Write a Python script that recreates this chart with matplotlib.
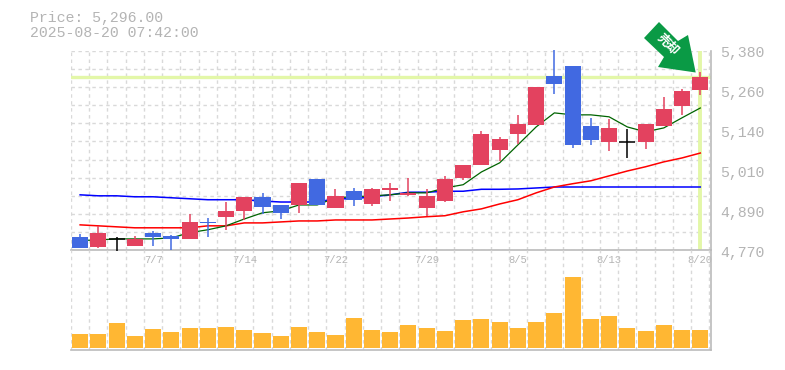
import matplotlib
matplotlib.use("Agg")
import matplotlib.pyplot as plt
from matplotlib.patches import Polygon, Rectangle

W, H = 785, 370
opens = [4806,4776,4800,4779,4819,4809,4800,4852,4868,4886,4929,4904,4904,4984,4895,4947,4907,4950,4935,4895,4916,4987,5027,5073,5121,5149,5299,5330,5146,5097,5097,5097,5146,5207,5256]
highs = [4816,4840,4806,4809,4825,4813,4877,4864,4913,4929,4941,4904,4972,4984,4953,4956,4956,4972,4987,4953,4993,5027,5131,5112,5180,5265,5379,5330,5171,5167,5137,5152,5235,5259,5311]
lows  = [4773,4773,4764,4779,4779,4767,4800,4806,4828,4858,4877,4861,4880,4904,4895,4901,4901,4916,4932,4871,4913,4981,5027,5039,5091,5149,5244,5079,5088,5070,5048,5076,5146,5180,5241]
closes= [4773,4819,4801,4800,4806,4800,4852,4849,4886,4929,4898,4880,4972,4904,4932,4920,4953,4956,4941,4932,4984,5027,5121,5106,5152,5265,5275,5088,5103,5140,5098,5152,5198,5253,5296]
ma5  = [4795,4797,4800,4800,4800,4803,4819,4828,4840,4861,4880,4886,4904,4904,4926,4929,4932,4935,4941,4941,4956,4966,5005,5033,5088,5143,5186,5180,5180,5174,5143,5128,5140,5171,5201]
ma25 = [4843,4840,4837,4834,4834,4834,4834,4840,4840,4849,4849,4852,4855,4855,4858,4858,4858,4861,4864,4868,4871,4883,4892,4907,4920,4941,4959,4969,4978,4993,5008,5021,5036,5048,5063]
ma75 = [4935,4932,4932,4929,4929,4926,4923,4920,4920,4920,4916,4913,4913,4913,4923,4923,4929,4935,4943,4943,4946,4946,4952,4952,4953,4956,4959,4959,4959,4959,4959,4959,4959,4959,4959]
volumes = [14,14,25,12,19,16,20,20,21,18,15,12,21,16,13,30,18,16,23,20,17,28,29,26,20,26,35,71,29,32,20,17,23,18,18]
date_labels = ["7/7","7/14","7/22","7/29","8/5","8/13","8/20"]
price_labels = ["5,380","5,260","5,140","5,010","4,890","4,770"]
title_lines = ["Price: 5,296.00","2025-08-20 07:42:00"]
last_price = 5296

RED, BLUE, BLACK = "#e3425f", "#4169e1", "#000000"
GRID = "#d9d9d9"; AXIS = "#bbbbbb"; HILITE = "#e3f7a8"; TXT = "#b4b4b4"
MONO = "Liberation Mono"

fig = plt.figure(figsize=(W/100, H/100), dpi=100, facecolor="white")
def box(x0, y0, x1, y1):
    return [x0/W, 1-y1/H, (x1-x0)/W, (y1-y0)/H]
ax = fig.add_axes(box(71, 51, 710.5, 250))
vx = fig.add_axes(box(71, 250, 710.5, 350), sharex=ax)
vx.patch.set_alpha(0)

n = len(closes)
ax.set_xlim(-0.5, 34.56)
ax.set_ylim(4766, 5375.6)
ax.set_xticks(range(4, n, 5))
ax.set_xticklabels(date_labels, family=MONO, fontsize=7.6, color=TXT)
ax.set_xticks([i-0.5 for i in range(n+1)], minor=True)
ax.set_yticks([4766+i*(5375.6-4766)/11 for i in range(12)])
ax.tick_params(axis="y", which="both", length=0, labelleft=False)
ax.tick_params(axis="x", which="both", length=0, pad=3.5)
for a in (ax, vx):
    a.grid(True, which="minor", axis="x", color=GRID, ls=(0, (2.5, 2.5)), lw=1.0)
    a.set_axisbelow(True)
    for s in ("left", "top"):
        a.spines[s].set_visible(False)
    for s in ("bottom", "right"):
        a.spines[s].set_color(AXIS)
        a.spines[s].set_linewidth(1.2)
ax.grid(True, which="major", axis="y", color=GRID, ls=(0, (2.5, 2.5)), lw=1.0)
vx.tick_params(axis="both", which="both", length=0, labelbottom=False, labelleft=False)
vx.set_yticks([])
vx.set_ylim(-2, 98)

ax.axhline(last_price, color=HILITE, lw=2.4, zorder=1.5)
ax.axvline(n-1, color=HILITE, lw=2.8, zorder=1.5)

xs = list(range(n))
ax.plot(xs, ma75, color="#0000ff", lw=1.1, zorder=2)
ax.plot(xs, ma25, color="#ff0000", lw=1.1, zorder=2)
ax.plot(xs, ma5, color="#006400", lw=0.9, zorder=2)

for i in xs:
    o, h, l, c = opens[i], highs[i], lows[i], closes[i]
    col = BLACK if abs(c-o) <= 1 else (RED if c > o else BLUE)
    ax.plot([i, i], [l, h], color=col, lw=1.1, zorder=3, solid_capstyle="butt", clip_on=False)
    if col == BLACK:
        ax.plot([i-0.44, i+0.44], [o, o], color=col, lw=1.1, zorder=4, solid_capstyle="butt")
    else:
        ax.add_patch(Rectangle((i-0.44, min(o, c)), 0.88, abs(c-o), facecolor=col, edgecolor="none", zorder=4))

vx.bar(xs, volumes, width=0.88, color="#ffb733", zorder=3)

px_y = [53, 93, 133, 173, 213, 253]
for t, y in zip(price_labels, px_y):
    fig.text(720/W, 1-y/H, t, family=MONO, fontsize=10.7, color=TXT, va="center", ha="left")
fig.text(30/W, 1-18/H, title_lines[0], family=MONO, fontsize=10.7, color=TXT, va="center", ha="left")
fig.text(30/W, 1-33/H, title_lines[1], family=MONO, fontsize=10.7, color=TXT, va="center", ha="left")

arrow_px = [(659,22),(678,41),(688,35),(695.7,72.5),(658,67),(664,57),(644,38)]
fig.add_artist(Polygon([(x/W, 1-y/H) for x, y in arrow_px], closed=True, transform=fig.transFigure,
                       facecolor="#0a9a45", edgecolor="none", zorder=6))
fig.text(667.5/W, 1-44.5/H, "\u58f2\u5374", family=["Noto Sans CJK JP", "DejaVu Sans"], fontsize=9, fontweight="bold",
         color="white", rotation=-45, rotation_mode="anchor", ha="center", va="center", zorder=7)

fig.savefig("out.png", dpi=100, facecolor="white")
